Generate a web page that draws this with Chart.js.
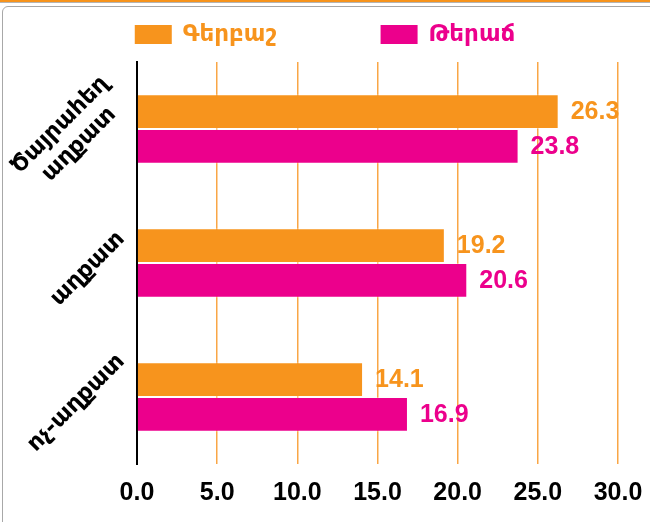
<!DOCTYPE html>
<html><head><meta charset="utf-8">
<script src="https://cdn.jsdelivr.net/npm/chart.js@4"></script>
<style>
html,body{margin:0;padding:0;background:#fff;width:650px;height:522px;overflow:hidden;}
#topbar{position:absolute;left:0;top:0;width:650px;height:2px;background:#F7941D;border-bottom:1px solid #b4b4b4;}
#frame{position:absolute;left:2px;top:6px;width:720px;height:600px;border:1.5px solid #a8a8a8;border-radius:6px;box-sizing:border-box;}
#c{position:absolute;left:0;top:0;}
</style></head><body>
<div id="topbar"></div><div id="frame"></div>
<canvas id="c" width="650" height="522"></canvas>
<script>
const categories = [["Ծայրահեղ", "աղքատ"], ["աղքատ"], ["ոչ-աղքատ"]];
const seriesNames = ["Գերբաշ", "Թերաճ"];
const overweight = [26.3, 19.2, 14.1];
const stunting = [23.8, 20.6, 16.9];
const xTicks = [0, 5, 10, 15, 20, 25, 30];
const seriesColors = ["#F7941D", "#EC008C"];

const NUM_FONT = '"Liberation Sans", Arial, sans-serif';
const ARM_FONT = '"DejaVu Sans", sans-serif';

const valueLabels = {
  id: 'valueLabels',
  afterDatasetsDraw(chart) {
    const ctx = chart.ctx;
    ctx.save();
    ctx.font = 'bold 25px ' + NUM_FONT;
    ctx.textAlign = 'left';
    ctx.textBaseline = 'middle';
    chart.data.datasets.forEach((ds, di) => {
      const meta = chart.getDatasetMeta(di);
      meta.data.forEach((el, i) => {
        ctx.fillStyle = ds.backgroundColor;
        ctx.fillText(ds.data[i].toFixed(1), el.x + 12, el.y + 1);
      });
    });
    ctx.restore();
  }
};

const categoryLabels = {
  id: 'categoryLabels',
  afterDraw(chart) {
    const ctx = chart.ctx, ys = chart.scales.y, area = chart.chartArea;
    ctx.save();
    ctx.font = 'bold 23px ' + ARM_FONT;
    ctx.fillStyle = '#000';
    const lh = 27;
    categories.forEach((lines, i) => {
      const y = ys.getPixelForTick(i);
      const W = Math.max(...lines.map(l => ctx.measureText(l).width));
      const H = lines.length * lh;
      const ext = (W + H * 0.7) * Math.SQRT1_2;
      const cx = area.left - 9 - ext / 2;
      ctx.save();
      ctx.translate(cx, y + 6);
      ctx.rotate(-Math.PI / 4);
      ctx.textAlign = 'center';
      ctx.textBaseline = 'middle';
      lines.forEach((l, j) => ctx.fillText(l, 0, (j - (lines.length - 1) / 2) * lh));
      ctx.restore();
    });
    ctx.restore();
  }
};

const customLegend = {
  id: 'customLegend',
  afterDraw(chart) {
    const ctx = chart.ctx;
    ctx.save();
    ctx.font = 'bold 23px ' + ARM_FONT;
    ctx.textBaseline = 'middle';
    ctx.textAlign = 'left';
    const boxW = 37, boxH = 19, gapText = 11, gapItem = 104, top = 25;
    const widths = chart.data.datasets.map(d => ctx.measureText(d.label).width);
    let total = 0;
    widths.forEach((w, i) => { total += boxW + gapText + w + (i < widths.length - 1 ? gapItem : 0); });
    let x = chart.width / 2 - total / 2;
    chart.data.datasets.forEach((d, i) => {
      ctx.fillStyle = d.backgroundColor;
      ctx.fillRect(x, top, boxW, boxH);
      ctx.fillText(d.label, x + boxW + gapText, top + boxH / 2 + 1);
      x += boxW + gapText + widths[i] + gapItem;
    });
    ctx.restore();
  }
};

new Chart(document.getElementById('c'), {
  type: 'bar',
  data: {
    labels: categories,
    datasets: [
      { label: seriesNames[0], data: overweight, backgroundColor: seriesColors[0], borderColor: 'rgba(255,255,255,0.35)', borderWidth: 1 },
      { label: seriesNames[1], data: stunting, backgroundColor: seriesColors[1], borderColor: 'rgba(255,255,255,0.35)', borderWidth: 1 }
    ]
  },
  options: {
    indexAxis: 'y',
    responsive: false,
    animation: false,
    devicePixelRatio: 1,
    categoryPercentage: 0.52,
    barPercentage: 1,
    layout: { autoPadding: false, padding: { top: 62, left: 137, right: 32, bottom: 14 } },
    plugins: { legend: { display: false }, tooltip: { enabled: false } },
    scales: {
      x: {
        min: 0, max: 30,
        afterBuildTicks: s => { s.ticks = xTicks.map(v => ({ value: v })); },
        afterFit: s => { s.height = 44; s.paddingLeft = 0; s.paddingRight = 0; s.paddingTop = 0; s.paddingBottom = 0; },
        grid: {
          drawTicks: false,
          color: c => (c.tick && c.tick.value === 0) ? 'rgba(0,0,0,0)' : '#F9A646',
          lineWidth: 1.5
        },
        border: { display: false },
        ticks: {
          padding: 14,
          color: '#000',
          font: { family: NUM_FONT, size: 25, weight: 'bold' },
          callback: v => Number(v).toFixed(1)
        }
      },
      y: {
        grid: { display: false, drawTicks: false },
        border: { display: true, color: '#000', width: 2 },
        ticks: { display: false, padding: 0 },
        afterFit: s => { s.width = 0; s.paddingTop = 0; s.paddingBottom = 0; }
      }
    }
  },
  plugins: [valueLabels, categoryLabels, customLegend]
});
</script>
</body></html>
